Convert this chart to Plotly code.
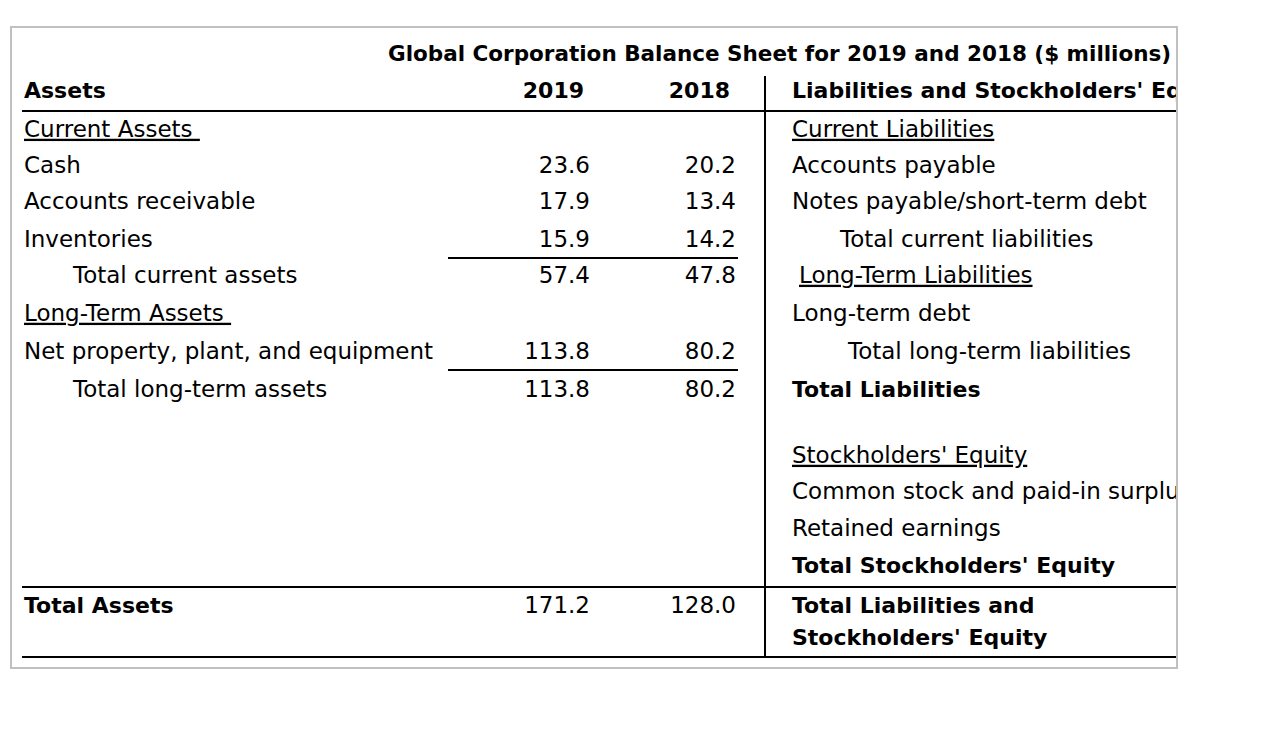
import plotly.graph_objects as go

# ---------------- data ----------------
title = "Global Corporation Balance Sheet for 2019 and 2018 ($ millions)"
years = ["2019", "2018"]
assets_header = "Assets"
liab_header = "Liabilities and Stockholders' Equity"

asset_labels = ["Current Assets", "Cash", "Accounts receivable", "Inventories",
                "Total current assets", "Long-Term Assets",
                "Net property, plant, and equipment", "Total long-term assets"]
assets_2019 = [None, 23.6, 17.9, 15.9, 57.4, None, 113.8, 113.8]
assets_2018 = [None, 20.2, 13.4, 14.2, 47.8, None, 80.2, 80.2]
total_assets_label = "Total Assets"
total_assets = [171.2, 128.0]

liability_labels = ["Current Liabilities", "Accounts payable",
                    "Notes payable/short-term debt", "Total current liabilities",
                    "Long-Term Liabilities", "Long-term debt",
                    "Total long-term liabilities", "Total Liabilities"]
equity_labels = ["Stockholders' Equity", "Common stock and paid-in surplus",
                 "Retained earnings", "Total Stockholders' Equity"]
grand_total_labels = ["Total Liabilities and", "Stockholders' Equity"]

# ---------------- styles / layout ----------------
asset_styles = ["u", "n", "n", "n", "i", "u", "n", "i"]
liability_styles = ["u", "n", "n", "i1", "u2", "n", "i2", "b"]
equity_styles = ["u", "n", "n", "b"]

FONT = "DejaVu Sans"
FS = 23
BFS = 22
TFS = 21.5
W, H = 1270, 734
OFF = 8          # page body margin
XMAX = 1177      # right clip edge (screen px)
TDY = 2          # text baseline nudge

row_y = [129, 165, 201, 239, 275, 313, 351, 389]
equity_y = [455, 491, 528, 565]
grand_y = [605, 637]
header_y = 90
title_y = 54

left_x = {"u": 24, "n": 24, "i": 73, "b": 24}
right_x = {"u": 792, "n": 792, "i1": 840, "u2": 799, "i2": 848, "b": 792}
col_right = [590, 736]
head_right = [584, 730]


def fmt(label, style):
    if style == "u":
        return "<u>" + label + ("\u00a0" if label.endswith("Assets") else "") + "</u>"
    if style == "u2":
        return "<u>" + label + "</u>"
    if style == "b":
        return "<b>" + label + "</b>"
    return label


fig = go.Figure()


def add_text(xs, ys, texts, pos, size=FS):
    fig.add_trace(go.Scatter(
        x=xs, y=[y + TDY for y in ys], text=texts, mode="text", textposition=pos,
        textfont=dict(family=FONT, size=size, color="black"),
        hoverinfo="skip", showlegend=False, cliponaxis=True))


# regular left-aligned labels
lx, ly, lt = [], [], []
bx, by, bt = [], [], []
for lab, st, y in zip(asset_labels, asset_styles, row_y):
    lx.append(left_x[st]); ly.append(y); lt.append(fmt(lab, st))
for lab, st, y in zip(liability_labels, liability_styles, row_y):
    (bx if st == "b" else lx).append(right_x[st])
    (by if st == "b" else ly).append(y)
    (bt if st == "b" else lt).append(fmt(lab, st))
for lab, st, y in zip(equity_labels, equity_styles, equity_y):
    (bx if st == "b" else lx).append(right_x[st])
    (by if st == "b" else ly).append(y)
    (bt if st == "b" else lt).append(fmt(lab, st))
add_text(lx, ly, lt, "middle right")

# bold left-aligned labels
bx += [left_x["n"], right_x["n"], left_x["n"]]
by += [header_y, header_y, grand_y[0]]
bt += ["<b>" + assets_header + "</b>", "<b>" + liab_header + "</b>",
       "<b>" + total_assets_label + "</b>"]
for lab, y in zip(grand_total_labels, grand_y):
    bx.append(right_x["n"]); by.append(y); bt.append("<b>" + lab + "</b>")
add_text(bx, by, bt, "middle right", BFS)

# title
add_text([388], [title_y], ["<b>" + title + "</b>"], "middle right", TFS)

# year headers
add_text(head_right, [header_y] * len(years), ["<b>" + yr + "</b>" for yr in years],
         "middle left", BFS)

# right-aligned numbers
vx, vy, vt = [], [], []
for series, cx in zip([assets_2019, assets_2018], col_right):
    for v, y in zip(series, row_y):
        if v is not None:
            vx.append(cx); vy.append(y); vt.append(f"{v:.1f}")
for v, cx in zip(total_assets, col_right):
    vx.append(cx); vy.append(grand_y[0]); vt.append(f"{v:.1f}")
add_text(vx, vy, vt, "middle left")


# ---------------- rules ----------------
def hline(x0, x1, y, color="black", w=2):
    fig.add_shape(type="line", xref="x", yref="y", x0=x0, x1=x1, y0=y, y1=y,
                  line=dict(color=color, width=w))


hline(22, XMAX, 111)
hline(448, 738, 258)
hline(448, 738, 370)
hline(22, XMAX, 587)
hline(22, XMAX, 657)
fig.add_shape(type="line", xref="x", yref="y", x0=765, x1=765, y0=76, y1=657,
              line=dict(color="black", width=2))
# outer frame
fig.add_shape(type="rect", xref="paper", yref="paper",
              x0=(11 - OFF) / W, x1=(XMAX - OFF) / W,
              y0=1 - (27 - OFF) / H, y1=1 - (668 - OFF) / H,
              line=dict(color="#c0c0c0", width=2))

fig.update_layout(
    width=W, height=H, margin=dict(l=0, r=0, t=0, b=0),
    paper_bgcolor="white", plot_bgcolor="white",
    xaxis=dict(range=[OFF, XMAX], domain=[0, (XMAX - OFF) / W],
               visible=False, fixedrange=True),
    yaxis=dict(range=[H + OFF, OFF], domain=[0, 1], visible=False, fixedrange=True),
)

fig.write_html("out.html")
